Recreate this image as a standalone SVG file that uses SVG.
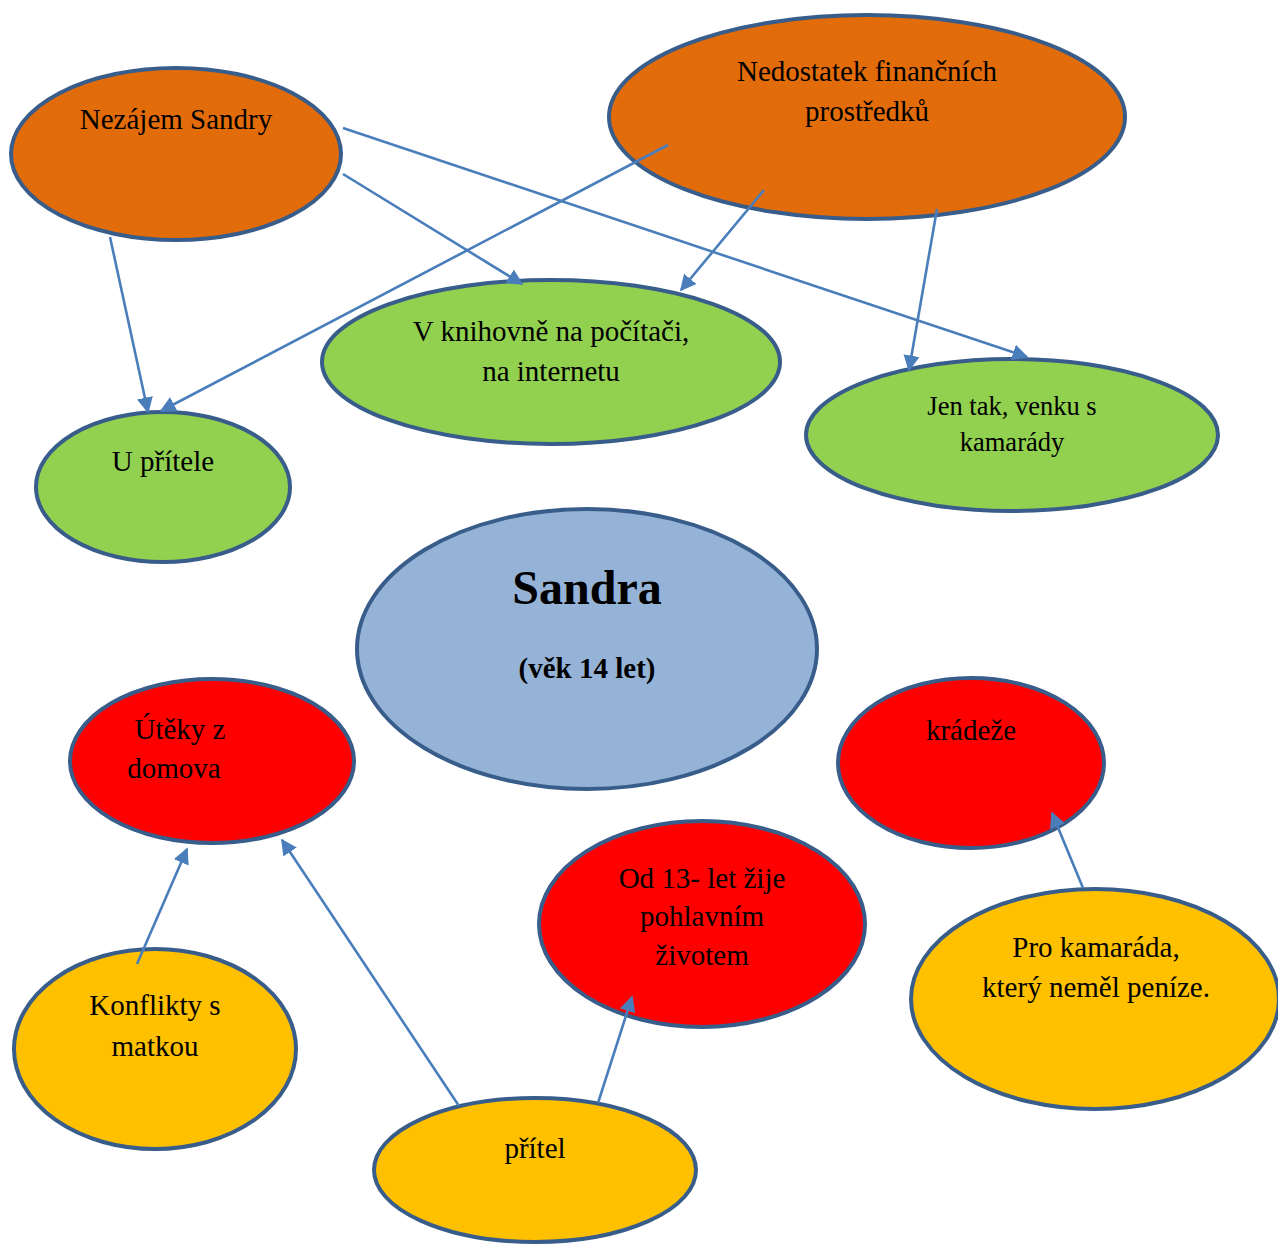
<svg xmlns="http://www.w3.org/2000/svg" width="1278" height="1244" viewBox="0 0 1278 1244">
<style>
.n{stroke:#385d8a;stroke-width:4}
.or{fill:#e36c0a}.gr{fill:#92d050}.bl{fill:#95b3d7}.rd{fill:#ff0000}.yl{fill:#ffc000}
text{font-family:"Liberation Serif","Times New Roman",serif;font-size:29px;fill:#000;text-anchor:middle}
.sm{font-size:26.5px}
.c line{stroke:#4a7ebb;stroke-width:2.6;marker-end:url(#ah)}
</style>
<defs>
<marker id="ah" viewBox="0 0 10 10" refX="9" refY="5" markerWidth="6.2" markerHeight="6.2" markerUnits="strokeWidth" orient="auto">
<path d="M0,0 L10,5 L0,10 z" fill="#4a7ebb"/>
</marker>
</defs>
<rect width="1278" height="1244" fill="#fff"/>
<g id="n1"><ellipse class="n or" cx="176" cy="154" rx="165" ry="86"/><text x="176" y="129">Nezájem Sandry</text></g>
<g id="n2"><ellipse class="n or" cx="867" cy="117" rx="258" ry="102"/><text x="867" y="81">Nedostatek finančních</text><text x="867" y="121">prostředků</text></g>
<g id="n3"><ellipse class="n gr" cx="551" cy="362" rx="229" ry="82"/><text x="551" y="341">V knihovně na počítači,</text><text x="551" y="381">na internetu</text></g>
<g id="n4"><ellipse class="n gr" cx="163" cy="487" rx="127" ry="75"/><text x="163" y="471">U přítele</text></g>
<g id="n5"><ellipse class="n gr" cx="1012" cy="435" rx="206" ry="76"/><text class="sm" x="1012" y="415">Jen tak, venku s</text><text class="sm" x="1012" y="451">kamarády</text></g>
<g id="n6"><ellipse class="n bl" cx="587" cy="649" rx="230" ry="140"/><text x="587" y="604" style="font-size:48px;font-weight:bold">Sandra</text><text x="587" y="678" style="font-weight:bold">(věk 14 let)</text></g>
<g id="n7"><ellipse class="n rd" cx="212" cy="761" rx="142" ry="82"/><text x="180" y="739">Útěky z</text><text x="174" y="778">domova</text></g>
<g id="n8"><ellipse class="n rd" cx="971" cy="763" rx="133" ry="85"/><text x="971" y="740">krádeže</text></g>
<g id="n9"><ellipse class="n rd" cx="702" cy="924" rx="163" ry="103"/><text x="702" y="888">Od 13- let žije</text><text x="702" y="926">pohlavním</text><text x="702" y="965">životem</text></g>
<g id="n10"><ellipse class="n yl" cx="155" cy="1049" rx="141" ry="100"/><text x="155" y="1015">Konflikty s</text><text x="155" y="1056">matkou</text></g>
<g id="n11"><ellipse class="n yl" cx="1095" cy="999" rx="184" ry="110"/><text x="1096" y="957">Pro kamaráda,</text><text x="1096" y="997">který neměl peníze.</text></g>
<g id="n12"><ellipse class="n yl" cx="535" cy="1170" rx="161" ry="72"/><text x="535" y="1158">přítel</text></g>
<g class="c" id="connectors">
<line x1="110" y1="237" x2="148" y2="412"/>
<line x1="668" y1="145" x2="161" y2="411"/>
<line x1="343" y1="174" x2="522" y2="284"/>
<line x1="343" y1="128" x2="1027" y2="357"/>
<line x1="764" y1="190" x2="681" y2="290"/>
<line x1="937" y1="209" x2="909" y2="370"/>
<line x1="137" y1="964" x2="187" y2="849"/>
<line x1="459" y1="1106" x2="282" y2="840"/>
<line x1="598" y1="1103" x2="632" y2="997"/>
<line x1="1083" y1="888" x2="1052" y2="813"/>
</g>
</svg>
